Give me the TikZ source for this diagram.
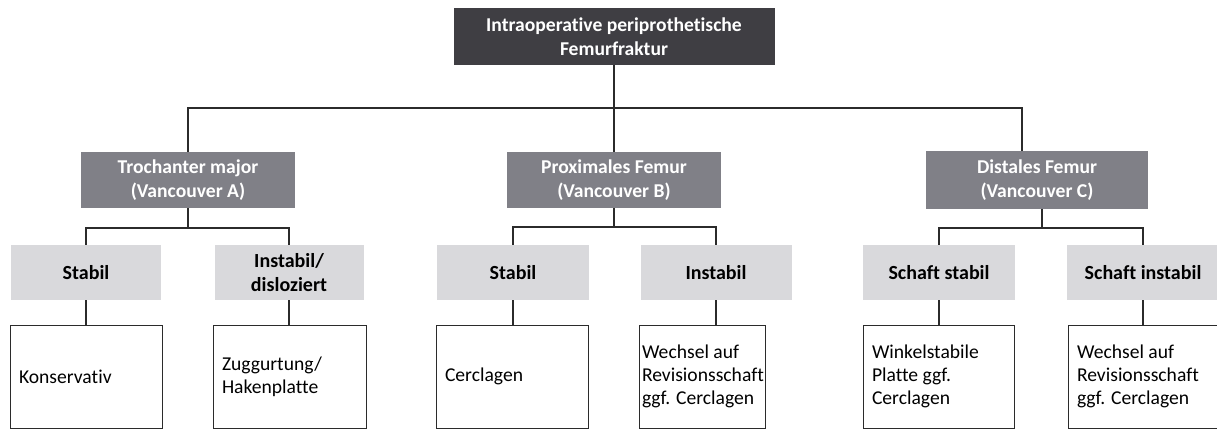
\documentclass[tikz,border=0pt]{standalone}
\usepackage{fontspec}
\setmainfont{Carlito}[RawFeature=-liga, RawFeature=-clig, RawFeature=-dlig]
\definecolor{cdark}{HTML}{3F3E43}
\definecolor{cmid}{HTML}{808087}
\definecolor{clight}{HTML}{D9D9DC}
\definecolor{cline}{HTML}{2B2B2B}
\tikzset{
  base/.style={inner sep=0pt, align=center, font=\fontsize{19.6}{23.5}\selectfont\bfseries},
  topbox/.style={base, fill=cdark, text=white, minimum width=321pt, minimum height=57pt},
  midbox/.style={base, fill=cmid, text=white, minimum width=214pt, minimum height=56pt},
  subbox/.style={base, fill=clight, text=black, minimum width=#1, minimum height=55pt, font=\fontsize{20}{23.5}\selectfont\bfseries},
  leafbox/.style={draw=cline, line width=0.9pt, fill=white, inner xsep=9pt, inner ysep=0pt,
     text width=#1-18pt, align=flush left, minimum height=103pt, font=\fontsize{19.6}{23.3}\selectfont},
  conn/.style={draw=cline, line width=1.1pt}
}
\begin{document}
\begin{tikzpicture}[x=1pt,y=-1pt]
\useasboundingbox (0,0) rectangle (1217,430);
\clip (0,0) rectangle (1217,430);
% level 1
\node[topbox] (top) at (614,36.5) {Intraoperative periprothetische\\Femurfraktur};
% level 2
\node[midbox] (A) at (188,180) {Trochanter major\\(Vancouver A)};
\node[midbox] (B) at (614,180) {Proximales Femur\\(Vancouver B)};
\node[midbox, minimum width=222pt, minimum height=58pt] (C) at (1037,180) {Distales Femur\\(Vancouver C)};
% level 3
\node[subbox=150pt] (A1) at (86,272.5) {Stabil};
\node[subbox=149pt] (A2) at (289,272.5) {Instabil/\\disloziert};
\node[subbox=152pt] (B1) at (513,272.5) {Stabil};
\node[subbox=151pt] (B2) at (716,272.5) {Instabil};
\node[subbox=152pt] (C1) at (939,272.5) {Schaft stabil};
\node[subbox=152pt] (C2) at (1143,272.5) {Schaft instabil};
% level 4
\node[leafbox=152pt] (A1l) at (86,376.5) {Konservativ};
\node[leafbox=153pt] (A2l) at (289.5,376.5) {Zuggurtung/\\Hakenplatte};
\node[leafbox=152pt] (B1l) at (512,376.5) {Cerclagen};
\node[leafbox=126pt, inner xsep=3pt, text width=120pt] (B2l) at (702,376.5) {Wechsel auf\\Revisionsschaft\\ggf. Cerclagen};
\node[leafbox=151pt] (C1l) at (938.5,376.5) {Winkelstabile\\Platte ggf.\\Cerclagen};
\node[leafbox=152pt] (C2l) at (1144,376.5) {Wechsel auf\\Revisionsschaft\\ggf. Cerclagen};
% junction coordinates
\coordinate (j0) at (614,108);
\coordinate (cC) at (1022,151);
\coordinate (jA) at (188,228);
\coordinate (jB) at (614,227);
\coordinate (jC) at (1042,228);
\coordinate (cCb) at (1042,209);
% connectors level 1 -> 2
\draw[conn] (top.south) -- (j0);
\draw[conn] (A.north) |- (j0) -| (cC);
\draw[conn] (j0) -- (B.north);
% level 2 -> 3
\draw[conn] (A.south) -- (jA);
\draw[conn] (A1.north) |- (jA) -| (A2.north);
\draw[conn] (B.south) -- (jB);
\draw[conn] (B1.north) |- (jB) -| (B2.north);
\draw[conn] (cCb) -- (jC);
\draw[conn] (C1.north) |- (jC) -| (C2.north);
% level 3 -> 4
\draw[conn] (A1.south) -- (A1.south |- A1l.north);
\draw[conn] (A2.south) -- (A2.south |- A2l.north);
\draw[conn] (B1.south) -- (B1.south |- B1l.north);
\draw[conn] (B2.south) -- (B2.south |- B2l.north);
\draw[conn] (C1.south) -- (C1.south |- C1l.north);
\draw[conn] (C2.south) -- (C2.south |- C2l.north);
\end{tikzpicture}
\end{document}
